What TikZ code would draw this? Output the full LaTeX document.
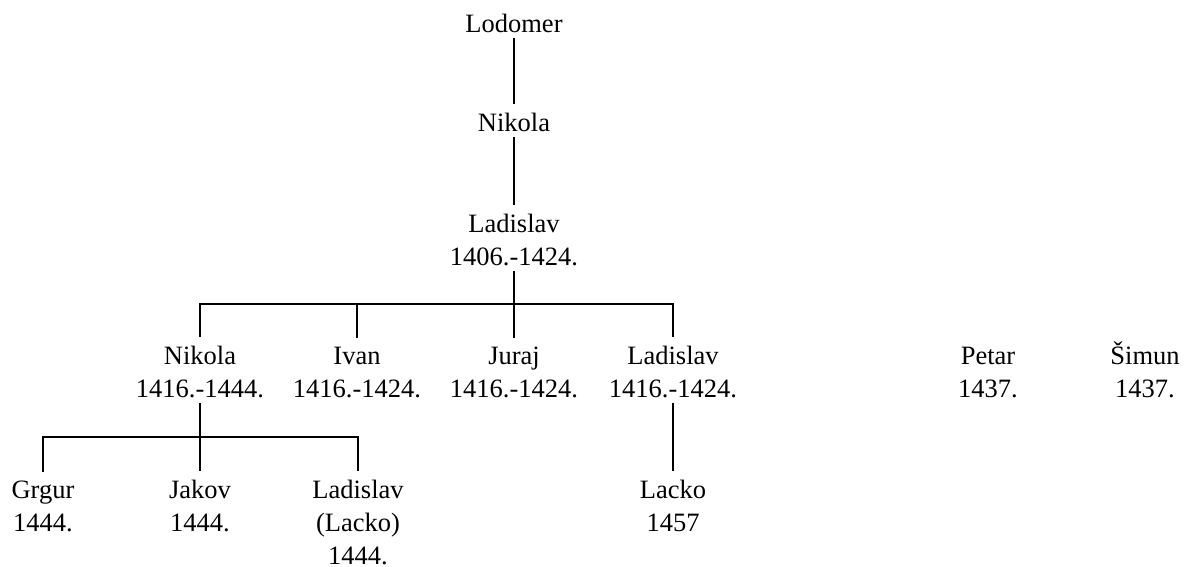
\documentclass[tikz,border=0pt]{standalone}
\usepackage{fontspec}
\setmainfont{Liberation Serif}
\usepackage{tikz}

\begin{document}
\begin{tikzpicture}[x=1pt,y=-1pt,
  person/.style={align=center,inner xsep=0pt,inner ysep=5.5pt,anchor=base,font=\fontsize{26.5}{33}\selectfont},
  link/.style={line width=1.4pt,shorten >=3pt}]
\useasboundingbox (0,0) rectangle (1190,566);
% nodes sit on the baseline of their last line
\node[person] (lodomer) at (514,32) {Lodomer};
\node[person] (nikola) at (514,131) {Nikola};
\node[person] (ladislav) at (514,265) {Ladislav\\1406.-1424.};
\node[person] (nikolaB) at (200,397) {Nikola\\1416.-1444.};
\node[person] (ivan) at (357,397) {Ivan\\1416.-1424.};
\node[person] (juraj) at (514,397) {Juraj\\1416.-1424.};
\node[person] (ladislavB) at (673,397) {Ladislav\\1416.-1424.};
\node[person] (petar) at (988,397) {Petar\\1437.};
\node[person] (simun) at (1145,397) {Šimun\\1437.};
\node[person] (grgur) at (43,531) {Grgur\\1444.};
\node[person] (jakov) at (200,531) {Jakov\\1444.};
\node[person] (ladislavC) at (358,564) {Ladislav\\(Lacko)\\1444.};
\node[person] (lacko) at (673,531) {Lacko\\1457};
\coordinate (fork1) at (514,304);
\coordinate (fork2) at (200,437);
\draw[link] (lodomer) -- (nikola);
\draw[link] (nikola) -- (ladislav);
\draw[link,shorten >=0pt] (ladislav) -- (fork1);
\draw[link] (fork1) -| (nikolaB);
\draw[link] (fork1) -| (ivan);
\draw[link] (fork1) -- (juraj);
\draw[link] (fork1) -| (ladislavB);
\draw[link] (nikolaB) -- (jakov);
\draw[link] (fork2) -| (grgur);
\draw[link] (fork2) -| (ladislavC);
\draw[link] (ladislavB) -- (lacko);
\end{tikzpicture}
\end{document}
